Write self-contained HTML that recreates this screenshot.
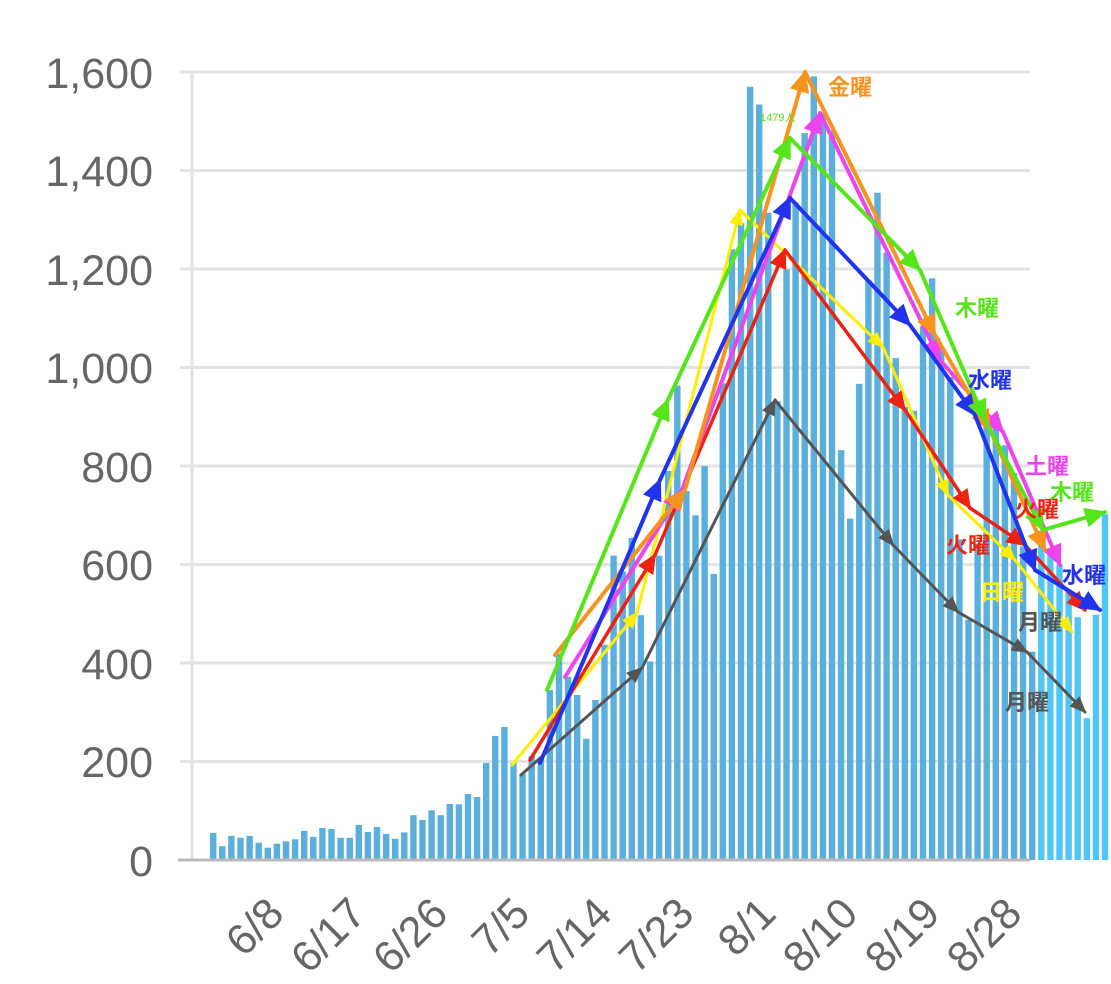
<!DOCTYPE html>
<html><head><meta charset="utf-8"><style>
html,body{margin:0;padding:0;background:#fff;}
svg{display:block;font-family:"Liberation Sans","Noto Sans CJK JP",sans-serif;}
</style></head><body>
<svg id="s" width="1111" height="984" viewBox="0 0 1111 984" xmlns="http://www.w3.org/2000/svg">
<defs>
<marker id="mg" markerUnits="userSpaceOnUse" markerWidth="24" markerHeight="20" refX="20" refY="10" orient="auto"><path d="M0,0 L22,10 L0,20 z" fill="#55e619"/></marker>
<marker id="mo" markerUnits="userSpaceOnUse" markerWidth="24" markerHeight="20" refX="20" refY="10" orient="auto"><path d="M0,0 L22,10 L0,20 z" fill="#f7931e"/></marker>
<marker id="mm" markerUnits="userSpaceOnUse" markerWidth="24" markerHeight="20" refX="20" refY="10" orient="auto"><path d="M0,0 L22,10 L0,20 z" fill="#ee44ee"/></marker>
<marker id="mb" markerUnits="userSpaceOnUse" markerWidth="24" markerHeight="20" refX="20" refY="10" orient="auto"><path d="M0,0 L22,10 L0,20 z" fill="#2233ee"/></marker>
<marker id="mr" markerUnits="userSpaceOnUse" markerWidth="22" markerHeight="18" refX="18" refY="9" orient="auto"><path d="M0,0 L20,9 L0,18 z" fill="#ee2211"/></marker>
<marker id="my" markerUnits="userSpaceOnUse" markerWidth="18" markerHeight="14" refX="15" refY="7" orient="auto"><path d="M0,0 L17,7 L0,14 z" fill="#ffee00"/></marker>
<marker id="mk" markerUnits="userSpaceOnUse" markerWidth="18" markerHeight="14" refX="15" refY="7" orient="auto"><path d="M0,0 L17,7 L0,14 z" fill="#555"/></marker>
</defs>
<g stroke="#e3e3e3" stroke-width="3">
<line x1="180" y1="72" x2="1030" y2="72"/>
<line x1="180" y1="170.5" x2="1030" y2="170.5"/>
<line x1="180" y1="269" x2="1030" y2="269"/>
<line x1="180" y1="367.5" x2="1030" y2="367.5"/>
<line x1="180" y1="466" x2="1030" y2="466"/>
<line x1="180" y1="564.5" x2="1030" y2="564.5"/>
<line x1="180" y1="663" x2="1030" y2="663"/>
<line x1="180" y1="761.5" x2="1030" y2="761.5"/>
<line x1="192" y1="72" x2="192" y2="860"/>
</g>
<g font-size="43" fill="#666" text-anchor="end">
<text x="153" y="88">1,600</text>
<text x="153" y="186">1,400</text>
<text x="153" y="285">1,200</text>
<text x="153" y="383">1,000</text>
<text x="153" y="482">800</text>
<text x="153" y="580">600</text>
<text x="153" y="679">400</text>
<text x="153" y="777">200</text>
<text x="153" y="876">0</text>
</g>
<g id="bars"></g>
<line x1="178" y1="860" x2="1030" y2="860" stroke="#bbb" stroke-width="3"/>
<g font-size="43" fill="#666" text-anchor="end">
<text transform="translate(286,916) rotate(-45)">6/8</text>
<text transform="translate(368,916) rotate(-45)">6/17</text>
<text transform="translate(450,916) rotate(-45)">6/26</text>
<text transform="translate(532,916) rotate(-45)">7/5</text>
<text transform="translate(614,916) rotate(-45)">7/14</text>
<text transform="translate(696,916) rotate(-45)">7/23</text>
<text transform="translate(778,916) rotate(-45)">8/1</text>
<text transform="translate(860,916) rotate(-45)">8/10</text>
<text transform="translate(942,916) rotate(-45)">8/19</text>
<text transform="translate(1024,916) rotate(-45)">8/28</text>
</g>
<g id="lines" fill="none" stroke-linecap="round"></g>
<g font-weight="bold" font-size="22">
<text x="828" y="95" fill="#f7931e">金曜</text>
<text x="760" y="121" fill="#55e619" font-size="11" font-weight="normal">1479人</text>
<text x="955" y="316" fill="#55e619">木曜</text>
<text x="968" y="388" fill="#2233ee">水曜</text>
<text x="1025" y="474" fill="#ee44ee">土曜</text>
<text x="1050" y="500" fill="#55e619">木曜</text>
<text x="1015" y="517" fill="#ee2211">火曜</text>
<text x="946" y="553" fill="#ee2211">火曜</text>
<text x="1062" y="583" fill="#2233ee">水曜</text>
<text x="980" y="600" fill="#ffee00">日曜</text>
<text x="1018" y="630" fill="#555">月曜</text>
<text x="1005" y="710" fill="#555">月曜</text>
</g>
</svg>
<script>
var v=[55,28,49,45,49,35,25,33,38,42,59,47,65,63,45,45,71,57,67,53,43,56,91,81,101,91,114,113,134,128,197,252,270,197,175,211,205,345,419,372,335,246,325,437,618,586,654,497,403,618,790,963,749,700,800,581,968,1240,1293,1570,1534,1314,932,1199,1335,1476,1591,1518,1481,832,693,967,1177,1355,1233,1019,920,912,1084,1181,1037,981,651,488,642,888,879,842,786,637,423,642,628,600,544,493,288,498,702];
var g=document.getElementById('bars'),h='';
for(var i=0;i<v.length;i++){var x=210+9.1*i,y=860-v[i]*0.4925;var c=x>1030?'#4fc6f5':'#5aafdc';
h+='<rect x="'+x.toFixed(1)+'" y="'+y.toFixed(1)+'" width="6.4" height="'+(860-y).toFixed(1)+'" fill="'+c+'"/>';}
g.innerHTML=h;
var L=[
["#555",3,"mk",[[521,775],[642,668],[775,400],[893,545],[958,612],[1027,652],[1085,712]]],
["#ffee00",3,"my",[[512,765],[637,613],[740,210],[883,347],[948,495],[1015,560],[1072,632]]],
["#ee2211",3.5,"mr",[[530,760],[655,555],[785,250],[905,410],[970,508],[1025,545],[1085,610]]],
["#ee44ee",4,"mm",[[565,677],[682,490],[820,113],[940,360],[1003,432],[1060,565]]],
["#f7931e",4,"mo",[[555,655],[685,490],[805,72],[935,335],[990,430],[1045,550]]],
["#2233ee",4,"mb",[[540,763],[660,480],[790,198],[910,325],[975,415],[1035,570],[1100,610]]],
["#55e619",4,"mg",[[547,690],[668,400],[790,138],[920,270],[985,420],[1043,530],[1105,512]]]];
var s='';
L.forEach(function(l){var p=l[3];for(var j=1;j<p.length;j++){s+='<line x1="'+p[j-1][0]+'" y1="'+p[j-1][1]+'" x2="'+p[j][0]+'" y2="'+p[j][1]+'" stroke="'+l[0]+'" stroke-width="'+l[1]+'" marker-end="url(#'+l[2]+')"/>';}});
document.getElementById('lines').innerHTML=s;
</script>
</body></html>
